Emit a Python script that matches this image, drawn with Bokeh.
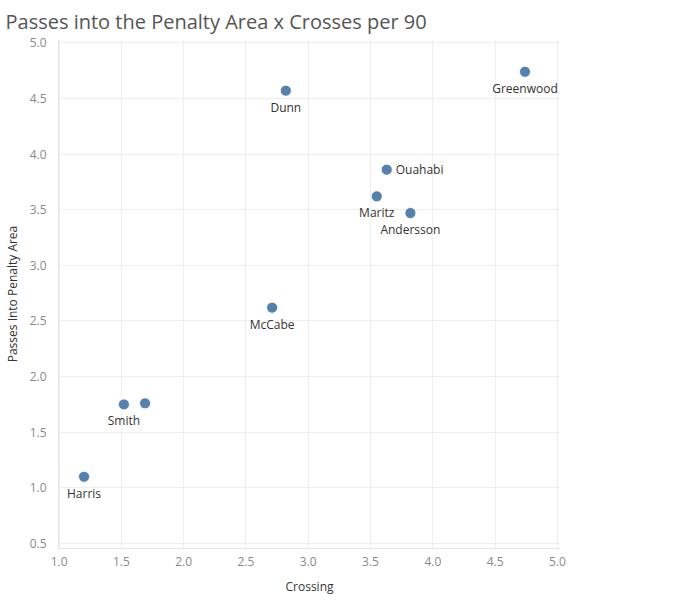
from bokeh.plotting import figure
from bokeh.models import ColumnDataSource, LabelSet, Title, FixedTicker, NumeralTickFormatter
from bokeh.core.properties import value
from bokeh.embed import file_html
from bokeh.resources import INLINE

players = ["Greenwood", "Dunn", "Ouahabi", "Maritz", "Andersson", "McCabe", "Smith", "Player 8", "Harris"]
labels = ["Greenwood", "Dunn", "Ouahabi", "Maritz", "Andersson", "McCabe", "Smith", "", "Harris"]
crossing = [4.74, 2.82, 3.63, 3.55, 3.82, 2.71, 1.52, 1.69, 1.20]
passes_pa = [4.74, 4.57, 3.86, 3.62, 3.47, 2.62, 1.75, 1.76, 1.10]
label_right = [False, False, True, False, False, False, False, False, False]
x_ticks = [1.0, 1.5, 2.0, 2.5, 3.0, 3.5, 4.0, 4.5, 5.0]
y_ticks = [0.5, 1.0, 1.5, 2.0, 2.5, 3.0, 3.5, 4.0, 4.5, 5.0]

FONT = "Open Sans"

p = figure(width=650, height=597, output_backend="svg", toolbar_location=None,
           x_range=(0.995, 5.025), y_range=(0.455, 5.03),
           min_border_left=50, min_border_right=90, min_border_top=36, min_border_bottom=40)
p.title = Title(text="Passes into the Penalty Area x Crosses per 90", text_font=FONT,
                text_font_size="20px", text_font_style="normal", text_color="#555555",
                align="left", offset=-53)
p.outline_line_color = None
p.background_fill_color = "white"
p.border_fill_color = "white"

for ax in (p.xaxis[0], p.yaxis[0]):
    ax.axis_line_color = "#e6e6e6"
    ax.major_tick_line_color = None
    ax.minor_tick_line_color = None
    ax.major_label_text_font = FONT
    ax.major_label_text_font_size = "12px"
    ax.major_label_text_color = "#8a8a8a"
    ax.axis_label_text_font = FONT
    ax.axis_label_text_font_size = "12px"
    ax.axis_label_text_font_style = "normal"
    ax.axis_label_text_color = "#333333"

p.xaxis.ticker = FixedTicker(ticks=x_ticks)
p.yaxis.ticker = FixedTicker(ticks=y_ticks)
p.xaxis.formatter = NumeralTickFormatter(format="0.0")
p.yaxis.formatter = NumeralTickFormatter(format="0.0")
p.xaxis.axis_label = "Crossing"
p.yaxis.axis_label = "Passes Into Penalty Area"
p.xaxis.major_label_standoff = 2
p.yaxis.major_label_standoff = 6
p.xaxis.axis_label_standoff = 9
p.yaxis.axis_label_standoff = 6

p.xgrid.grid_line_color = "#efefef"
p.ygrid.grid_line_color = "#efefef"

below = dict(x=[], y=[], t=[])
right = dict(x=[], y=[], t=[])
for cx, py, lb, r in zip(crossing, passes_pa, labels, label_right):
    d = right if r else below
    d["x"].append(cx); d["y"].append(py); d["t"].append(lb)

src = ColumnDataSource(dict(x=crossing, y=passes_pa, name=players))
p.scatter("x", "y", source=src, size=11, fill_color="#4e79a7", line_color="white",
          line_width=0.8, fill_alpha=0.95)

ls_below = LabelSet(x="x", y="y", text="t", source=ColumnDataSource(below),
                    text_align="center", text_baseline="top", y_offset=-8,
                    text_font=value(FONT), text_font_size=value("12px"), text_color="#333333")
ls_right = LabelSet(x="x", y="y", text="t", source=ColumnDataSource(right),
                    text_align="left", text_baseline="middle", x_offset=9,
                    text_font=value(FONT), text_font_size=value("12px"), text_color="#333333")
p.add_layout(ls_below)
p.add_layout(ls_right)

open("out.html", "w").write(file_html(p, INLINE))
